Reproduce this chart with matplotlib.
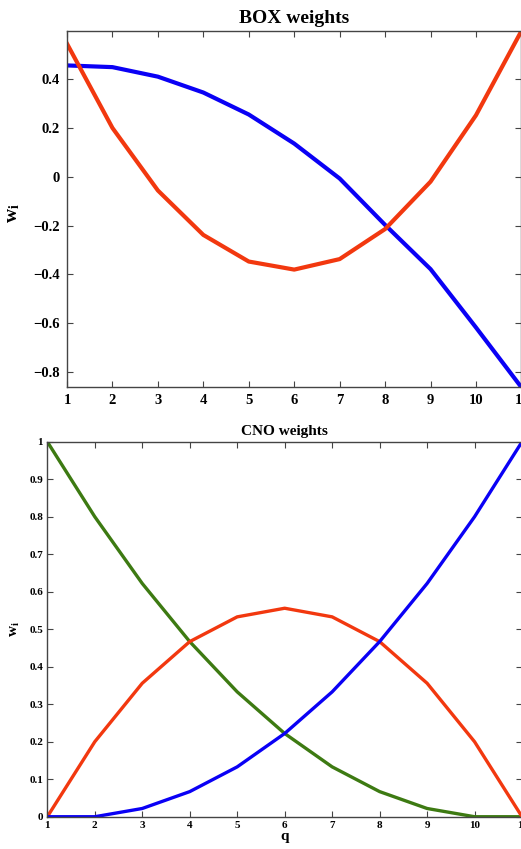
import matplotlib
matplotlib.use('Agg')
import matplotlib.pyplot as plt
import numpy as np

# --- datos ---
q = np.arange(1, 12)

box_blue = [0.456, 0.449, 0.410, 0.345, 0.255, 0.136, -0.007, -0.197, -0.378, -0.617, -0.862]
box_red = [0.545, 0.200, -0.056, -0.238, -0.347, -0.380, -0.337, -0.214, -0.020, 0.252, 0.597]

cno_green = [1.0, 0.800, 0.622, 0.467, 0.333, 0.222, 0.133, 0.067, 0.022, 0.0, 0.0]
cno_red = [0.0, 0.200, 0.356, 0.467, 0.533, 0.556, 0.533, 0.467, 0.356, 0.200, 0.0]
cno_blue = [0.0, 0.0, 0.022, 0.067, 0.133, 0.222, 0.333, 0.467, 0.622, 0.800, 1.0]

box_yticks = [-0.8, -0.6, -0.4, -0.2, 0, 0.2, 0.4]
box_yticklabels = ['\u22120.8', '\u22120.6', '\u22120.4', '\u22120.2', '0', '0.2', '0.4']
cno_yticks = [0, 0.1, 0.2, 0.3, 0.4, 0.5, 0.6, 0.7, 0.8, 0.9, 1]
cno_yticklabels = ['0', '0.1', '0.2', '0.3', '0.4', '0.5', '0.6', '0.7', '0.8', '0.9', '1']

BLUE = '#0a00f5'
RED = '#f2380f'
GREEN = '#3d7a12'

plt.rcParams['font.family'] = ['Liberation Serif', 'DejaVu Serif']
plt.rcParams['font.weight'] = 'bold'
plt.rcParams['mathtext.fontset'] = 'custom'
plt.rcParams['mathtext.rm'] = 'Liberation Serif:bold'
plt.rcParams['mathtext.bf'] = 'Liberation Serif:bold'
plt.rcParams['mathtext.it'] = 'Liberation Serif:bold'

fig = plt.figure(figsize=(5.21, 8.49), dpi=100)

def style(ax, fs):
    ax.tick_params(direction='in', top=True, right=True, length=4, width=0.8,
                   labelsize=fs, pad=5, color='#444444')
    for s in ax.spines.values():
        s.set_linewidth(1.0)
        s.set_color('#444444')
    for lab in ax.get_xticklabels() + ax.get_yticklabels():
        lab.set_fontweight('bold')

# --- BOX ---
ax1 = fig.add_axes([0.1286, 0.5438, 0.8722, 0.4197])
ax1.plot(q, box_blue, color=BLUE, lw=3.0, solid_joinstyle='round')
ax1.plot(q, box_red, color=RED, lw=3.0, solid_joinstyle='round')
ax1.set_xlim(1, 11)
ax1.set_ylim(-0.862, 0.597)
ax1.set_xticks(q)
ax1.set_yticks(box_yticks)
ax1.set_yticklabels(box_yticklabels)
style(ax1, 10.5)
ax1.set_title('BOX weights', fontsize=14, fontweight='bold', pad=6)
ax1.set_ylabel(r'$\mathrm{w_i}$', fontsize=14)
ax1.yaxis.set_label_coords(-0.099, 0.49)

# --- CNO ---
ax2 = fig.add_axes([0.0908, 0.0380, 0.9112, 0.4417])
ax2.plot(q, cno_green, color=GREEN, lw=2.4)
ax2.plot(q, cno_red, color=RED, lw=2.4)
ax2.plot(q, cno_blue, color=BLUE, lw=2.4)
ax2.set_xlim(1, 11)
ax2.set_ylim(0, 1)
ax2.set_xticks(q)
ax2.set_yticks(cno_yticks)
ax2.set_yticklabels(cno_yticklabels)
style(ax2, 8)
ax2.tick_params(pad=3)
ax2.set_title('CNO weights', fontsize=11, fontweight='bold', pad=5)
ax2.set_xlabel('q', fontsize=11, fontweight='bold', labelpad=0)
ax2.set_ylabel(r'$\mathrm{w_i}$', fontsize=11)
ax2.yaxis.set_label_coords(-0.053, 0.5)

fig.savefig('out.png', dpi=100)
